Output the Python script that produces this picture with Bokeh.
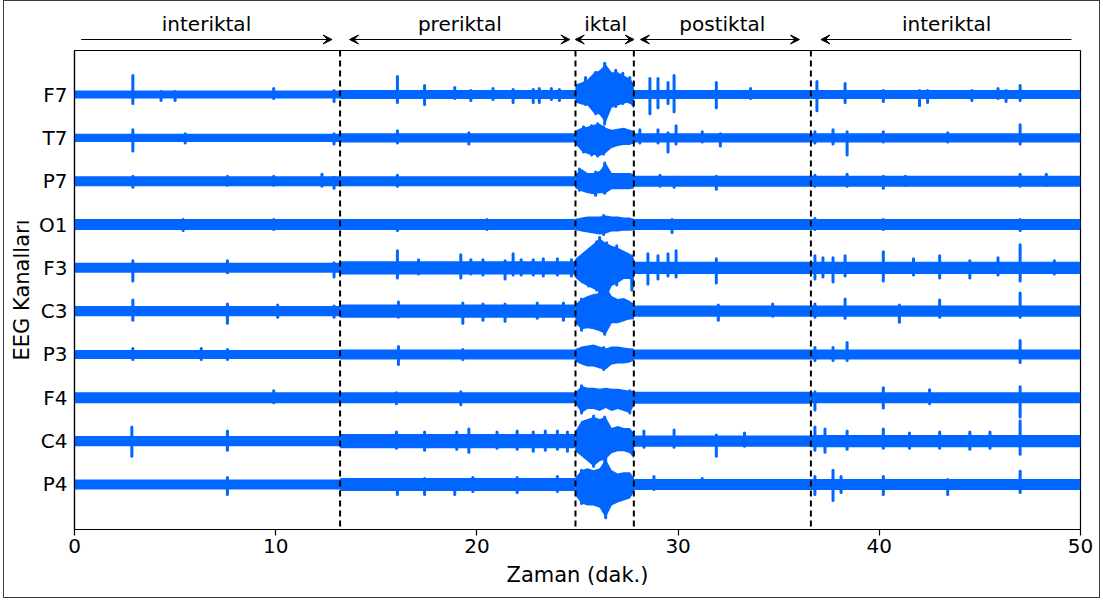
from bokeh.plotting import figure
from bokeh.layouts import column
from bokeh.models import (ColumnDataSource, FixedTicker, Arrow, VeeHead, Span, Range1d,
                          InlineStyleSheet)
from bokeh.core.properties import value
from bokeh.embed import file_html
from bokeh.resources import INLINE

# ---------------- data ----------------
CHANNELS = ["F7", "T7", "P7", "O1", "F3", "C3", "P3", "F4", "C4", "P4"]
CHANNEL_SPACING = 43  # vertical offset between traces (µV)
PERIOD_BOUNDS = [0, 13.2, 24.9, 27.8, 36.6, 50]          # minutes
PERIOD_NAMES = ["interiktal", "preriktal", "iktal", "postiktal", "interiktal"]
PERIOD_LABEL_X = [6.56, 19.15, 26.4, 32.2, 43.35]
ARROW_START = [0.33, 13.67, 24.89, 28.13, 37.1]
ARROW_END = [12.8, 24.62, 27.81, 36.03, 49.55]
ARROW_HEADS = ["end", "both", "both", "both", "start"]
X_TICKS = [0, 10, 20, 30, 40, 50]

# background half-amplitude of each trace per period (inter, pre, ictal, post, inter)
BASE_HALF = [
    [4.0, 4.5, 6.0, 4.5, 4.5],   # F7
    [4.0, 4.5, 6.0, 4.5, 4.5],   # T7
    [5.0, 5.0, 7.0, 5.5, 5.5],   # P7
    [5.5, 5.5, 6.0, 5.5, 5.5],   # O1
    [5.0, 6.5, 9.0, 6.0, 6.0],   # F3
    [5.0, 6.5, 8.0, 5.5, 5.5],   # C3
    [4.5, 5.0, 6.0, 5.0, 5.0],   # P3
    [5.5, 5.5, 7.0, 6.0, 5.5],   # F4
    [5.0, 7.0, 9.0, 5.5, 6.0],   # C4
    [5.0, 6.5, 8.0, 5.5, 5.5],   # P4
]

# seizure envelope (upper / lower excursion, µV)
SEIZ_T = [24.9, 25.2, 25.5, 25.8, 26.1, 26.4, 26.7, 27.0, 27.3, 27.6, 27.8]
SEIZ_UP = [
    [10, 12, 15, 21, 24, 30, 22, 22, 19, 16, 11],
    [7, 10, 11, 13, 14, 10, 8, 9, 10, 8, 7],
    [7, 12, 8, 8, 10, 18, 8, 8, 8, 8, 7],
    [5, 7, 8, 8, 8, 9, 8, 8, 7, 7, 5],
    [9, 14, 19, 24, 29, 25, 22, 20, 17, 14, 9],
    [7, 12, 15, 17, 18, 25, 15, 12, 13, 10, 7],
    [5, 8, 9, 10, 8, 6, 8, 8, 7, 6, 5],
    [5, 12, 10, 10, 9, 10, 9, 9, 8, 7, 6],
    [10, 20, 22, 24, 22, 24, 13, 15, 13, 13, 8],
    [7, 14, 16, 14, 16, 25, 14, 11, 12, 12, 7],
]
SEIZ_DOWN = [
    [8, 10, 11, 18, 20, 28, 13, 11, 9, 8, 14],
    [6, 13, 16, 17, 18, 15, 10, 8, 7, 7, 5],
    [7, 10, 12, 13, 12, 12, 8, 8, 8, 8, 7],
    [5, 7, 8, 9, 10, 9, 7, 7, 6, 6, 5],
    [10, 15, 18, 21, 24, 31, 18, 15, 11, 11, 21],
    [12, 18, 17, 18, 20, 23, 12, 12, 10, 8, 8],
    [7, 10, 12, 12, 14, 15, 10, 9, 9, 8, 6],
    [6, 15, 11, 11, 13, 10, 13, 11, 13, 15, 8],
    [10, 15, 20, 25, 20, 18, 12, 10, 10, 12, 17],
    [11, 19, 21, 21, 23, 33, 21, 18, 16, 14, 8],
]

# transients: (minute, upward µV, downward µV)
SPIKES_F7 = [(2.9, 19, 9), (4.3, 3, 6), (5.0, 3, 6), (9.9, 6, 4), (12.9, 4, 7), (16.05, 18, 8),
             (17.4, 9, 10), (18.9, 7, 4), (19.7, 4, 6), (20.8, 6, 5), (21.8, 5, 8), (22.8, 5, 8),
             (23.1, 6, 8), (23.7, 6, 5), (24.1, 5, 6), (25.4, 17, 10), (25.9, 22, 19), (26.35, 31, 29),
             (26.9, 24, 12), (27.25, 21, 9), (27.6, 17, 8),
             (28.6, 16, 19), (29.0, 16, 13), (29.5, 12, 9),
             (29.8, 19, 17), (31.9, 12, 13), (33.6, 6, 4), (36.9, 13, 16), (38.3, 11, 8), (40.2, 4, 7),
             (42.0, 4, 11), (42.4, 4, 8), (44.6, 4, 6), (45.9, 6, 4), (46.3, 4, 7), (47.0, 9, 6)]
SPIKES_T7 = [(2.9, 8, 13), (5.5, 4, 5), (12.9, 4, 6), (16.05, 7, 5), (19.6, 5, 6),
             (25.3, 11, 14), (25.7, 12, 17), (26.0, 14, 18), (26.3, 11, 16),
             (28.1, 8, 5), (29.0, 8, 5), (29.5, 5, 14), (29.9, 12, 6), (31.2, 6, 4), (32.1, 4, 8),
             (36.8, 6, 5), (37.7, 8, 6), (38.4, 6, 17), (40.2, 6, 4), (43.4, 5, 4), (47.0, 13, 6)]
SPIKES_P7 = [(2.9, 5, 6), (7.6, 5, 4), (9.9, 5, 4), (12.3, 7, 5), (12.9, 4, 7), (16.05, 6, 5),
             (25.1, 12, 9), (26.35, 18, 12), (25.9, 9, 14),
             (29.1, 6, 5), (29.8, 4, 6), (31.9, 5, 8), (36.8, 6, 5), (38.4, 7, 5), (40.2, 5, 7),
             (41.3, 5, 4), (47.0, 7, 5), (48.3, 7, 4)]
SPIKES_O1 = [(5.4, 5, 6), (9.9, 5, 5), (16.05, 4, 6), (20.5, 5, 5), (26.3, 9, 10), (29.7, 5, 8),
             (36.8, 6, 5), (40.2, 5, 5), (47.0, 5, 6)]
SPIKES_F3 = [(2.9, 7, 13), (7.6, 7, 5), (12.9, 5, 9), (16.05, 17, 10), (17.1, 8, 6), (19.2, 13, 10),
             (19.7, 8, 6), (20.3, 8, 7), (21.4, 7, 11), (21.8, 14, 7), (22.2, 8, 7), (22.8, 8, 7),
             (23.3, 9, 8), (24.0, 9, 7), (24.7, 8, 8), (25.55, 17, 18), (25.95, 26, 22), (26.1, 30, 25),
             (26.45, 25, 31), (26.95, 22, 17), (27.7, 12, 22),
             (28.5, 14, 16), (29.0, 12, 11), (29.5, 14, 8),
             (29.9, 17, 9), (31.9, 9, 15), (36.8, 12, 11), (37.2, 10, 9), (37.7, 10, 14), (38.3, 12, 8),
             (40.2, 16, 13), (41.7, 9, 7), (43.0, 12, 10), (44.5, 7, 10), (45.9, 10, 7), (47.0, 23, 13),
             (48.7, 7, 6)]
SPIKES_C3 = [(2.9, 11, 9), (7.6, 7, 12), (10.1, 6, 6), (12.9, 5, 6), (16.1, 9, 6), (19.3, 8, 12),
             (20.3, 7, 9), (21.4, 7, 10), (23.0, 8, 7), (24.3, 8, 9), (25.2, 12, 19), (26.35, 25, 23),
             (32.0, 6, 9), (34.7, 7, 5),
             (36.8, 7, 6), (38.3, 12, 7), (41.0, 6, 11), (43.0, 11, 6), (47.0, 18, 6)]
SPIKES_P3 = [(2.9, 6, 5), (6.3, 6, 5), (7.6, 5, 5), (16.1, 8, 10), (19.3, 5, 5), (26.3, 7, 15),
             (36.8, 7, 6), (37.7, 7, 6), (38.4, 12, 6), (47.0, 14, 8)]
SPIKES_F4 = [(9.9, 7, 5), (16.0, 5, 6), (19.2, 6, 7), (25.2, 12, 15), (27.6, 7, 15),
             (36.8, 6, 12), (40.2, 10, 10), (42.5, 8, 6), (47.0, 11, 19)]
SPIKES_C4 = [(2.85, 14, 15), (7.6, 10, 9), (16.0, 9, 7), (17.4, 9, 9), (19.0, 9, 8), (19.6, 12, 11),
             (21.0, 9, 7), (22.0, 10, 8), (22.8, 9, 10), (23.4, 10, 9), (24.0, 10, 8), (24.5, 9, 10),
             (25.8, 25, 25), (26.35, 24, 27),
             (28.3, 10, 6), (29.8, 11, 6), (31.9, 6, 15), (33.3, 8, 5), (36.8, 14, 9), (37.3, 12, 11),
             (38.4, 10, 8), (40.2, 12, 7), (41.5, 8, 7), (43.0, 9, 7), (44.5, 9, 8), (45.5, 9, 7),
             (47.0, 20, 13)]
SPIKES_P4 = [(7.6, 7, 10), (16.05, 5, 10), (17.4, 6, 10), (18.9, 5, 10), (19.8, 7, 7), (22.0, 7, 8),
             (24.0, 8, 7), (25.2, 14, 19), (26.4, 26, 33),
             (28.8, 8, 5), (31.2, 6, 4), (36.8, 8, 10), (37.7, 14, 16), (38.1, 8, 8),
             (40.2, 8, 10), (43.4, 5, 10), (47.0, 13, 8)]
SPIKES = [SPIKES_F7, SPIKES_T7, SPIKES_P7, SPIKES_O1, SPIKES_F3,
          SPIKES_C3, SPIKES_P3, SPIKES_F4, SPIKES_C4, SPIKES_P4]

# ---------------- styling ----------------
FONT = "DejaVu Sans"
BLUE = "#0066ff"
n = len(CHANNELS)
offsets = [(n - 1 - i) * CHANNEL_SPACING for i in range(n)]
x_range = Range1d(0, 50)

# ---------------- header strip: period arrows ----------------
top = figure(width=1103, height=48, output_backend="svg", toolbar_location=None,
             x_range=x_range, y_range=(0, 48),
             min_border_left=74, min_border_right=23, min_border_top=0, min_border_bottom=0)
top.axis.visible = False
top.grid.visible = False
top.outline_line_color = None
top.background_fill_color = "white"
top.border_fill_color = "white"

ARROW_Y = 9.0
LABEL_Y = 25.0
for xs, xe, heads in zip(ARROW_START, ARROW_END, ARROW_HEADS):
    start = VeeHead(size=9, fill_color="black", line_color="black", line_width=1) if heads in ("start", "both") else None
    end = VeeHead(size=9, fill_color="black", line_color="black", line_width=1) if heads in ("end", "both") else None
    top.add_layout(Arrow(x_start=xs, y_start=ARROW_Y, x_end=xe, y_end=ARROW_Y,
                         start=start, end=end, line_color="black", line_width=1.2))
top.text(x=PERIOD_LABEL_X, y=[LABEL_Y] * len(PERIOD_LABEL_X), text=PERIOD_NAMES,
         text_align="center", text_baseline="alphabetic", text_font=value(FONT),
         text_font_size="20px", text_color="black")

# ---------------- main EEG panel ----------------
p = figure(width=1103, height=553, output_backend="svg", toolbar_location=None,
           x_range=x_range, y_range=(-44.7, 430.7),
           min_border_left=74, min_border_right=23, min_border_top=2, min_border_bottom=72)
p.background_fill_color = "white"
p.border_fill_color = "white"
p.outline_line_color = "black"
p.outline_line_width = 1.2
p.grid.visible = False

ql, qr, qb, qt = [], [], [], []
for i, off in enumerate(offsets):
    for k in range(len(PERIOD_BOUNDS) - 1):
        ql.append(PERIOD_BOUNDS[k])
        qr.append(PERIOD_BOUNDS[k + 1])
        qb.append(off - BASE_HALF[i][k])
        qt.append(off + BASE_HALF[i][k])
p.quad(left="l", right="r", bottom="b", top="t",
       source=ColumnDataSource(dict(l=ql, r=qr, b=qb, t=qt)),
       fill_color=BLUE, line_color=None)

for i, off in enumerate(offsets):
    p.varea(x=SEIZ_T, y1=[off - d for d in SEIZ_DOWN[i]], y2=[off + u for u in SEIZ_UP[i]],
            fill_color=BLUE)

sx, sy0, sy1 = [], [], []
for i, off in enumerate(offsets):
    for (t, up, down) in SPIKES[i]:
        sx.append(t)
        sy0.append(off - down)
        sy1.append(off + up)
p.segment(x0="x", y0="y0", x1="x", y1="y1",
          source=ColumnDataSource(dict(x=sx, y0=sy0, y1=sy1)),
          line_color=BLUE, line_width=3, line_cap="round")

for b in PERIOD_BOUNDS[1:-1]:
    p.add_layout(Span(location=b, dimension="height", line_color="black",
                      line_width=2, line_dash="6 4"))

p.xaxis.ticker = FixedTicker(ticks=X_TICKS)
p.xaxis.axis_label = "Zaman (dak.)"
p.yaxis.ticker = FixedTicker(ticks=offsets)
p.yaxis.major_label_overrides = {off: name for off, name in zip(offsets, CHANNELS)}
p.yaxis.axis_label = "EEG Kanalları"
for ax in (p.xaxis[0], p.yaxis[0]):
    ax.axis_line_color = "black"
    ax.axis_line_width = 1.2
    ax.major_tick_line_color = "black"
    ax.major_tick_line_width = 1.2
    ax.minor_tick_line_color = None
    ax.major_tick_in = 0
    ax.major_label_text_font = FONT
    ax.major_label_text_font_size = "20px"
    ax.major_label_text_color = "black"
    ax.axis_label_text_font = FONT
    ax.axis_label_text_font_size = "21px"
    ax.axis_label_text_font_style = "normal"
    ax.axis_label_text_color = "black"
p.xaxis.major_tick_out = 6
p.xaxis.major_label_standoff = 3
p.xaxis.axis_label_standoff = 7
p.yaxis.major_tick_out = 0
p.yaxis.major_label_standoff = 7
p.yaxis.axis_label_standoff = 2

frame_css = InlineStyleSheet(css="""
:host { position: relative; }
:host::after {
  content: ""; position: absolute; left: 3px; top: 0px; width: 1097px; height: 598px;
  border: 1.5px solid #3c3c3c; box-sizing: border-box; pointer-events: none; z-index: 10;
}
""")
layout = column(top, p, spacing=0, stylesheets=[frame_css])

open("out.html", "w").write(file_html(layout, INLINE))
